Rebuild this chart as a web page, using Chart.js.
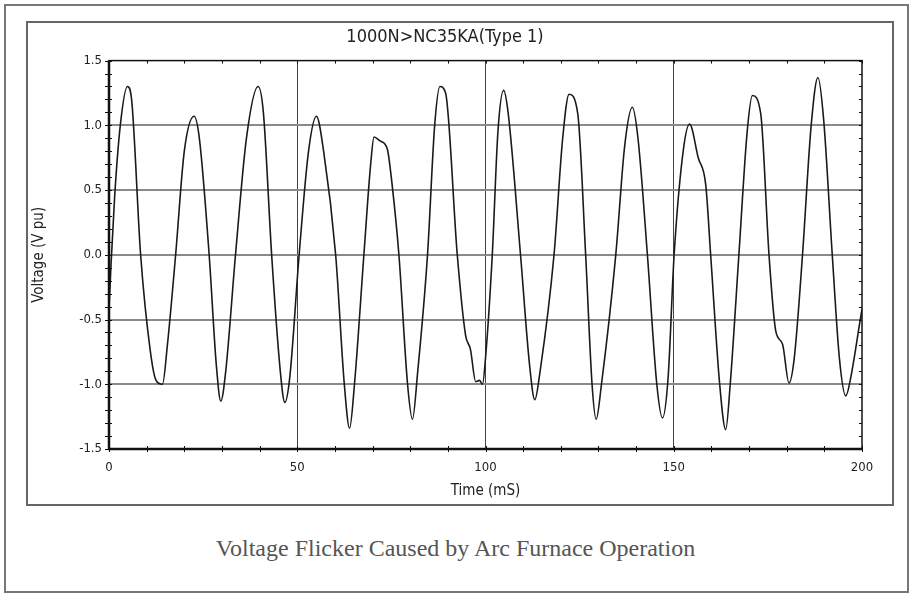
<!DOCTYPE html>
<html>
<head>
<meta charset="utf-8">
<script src="https://cdn.jsdelivr.net/npm/chart.js@4"></script>
<style>
  html, body { margin: 0; padding: 0; background: #fff; }
  body { width: 911px; height: 595px; position: relative; overflow: hidden; }
  #outer { position: absolute; left: 4px; top: 4px; width: 901px; height: 585px; border: 2px solid #777; }
  #inner { position: absolute; left: 26px; top: 21px; width: 864px; height: 481px; border: 2px solid #666; }
  #wrap { position: absolute; left: 28px; top: 23px; width: 862px; height: 479px; }
  #caption { position: absolute; left: 0; width: 911px; top: 535px; text-align: center;
    font-family: 'Liberation Serif', 'Times New Roman', serif; font-size: 24px; color: #555; }
</style>
</head>
<body>
<div id="outer"></div>
<div id="inner"></div>
<div id="wrap"><canvas id="flickerChart" width="862" height="479"></canvas></div>
<div id="caption">Voltage Flicker Caused by Arc Furnace Operation</div>
<script>
// ── Data ────────────────────────────────────────────────────────
const chartTitle = '1000N>NC35KA(Type 1)';
const xTicks = [0, 50, 100, 150, 200];
const yTicks = [-1.5, -1.0, -0.5, 0.0, 0.5, 1.0, 1.5];

const timeMs = [
  0, 0.5, 1.5, 3, 4.9, 6, 8.4, 11, 12.5, 14.2, 15.5, 17.7, 20, 22.6, 24, 26.6, 28.5, 29.7, 31, 33.6,
  36.5, 39.6, 41, 43.2, 45.5, 46.7, 48, 50.5, 53, 55.1, 57, 60.2, 62.5, 63.9, 65.2, 67.7,
  69.5, 70.4, 72, 73.9, 75.2, 77, 79.3, 80.6, 82, 84.6, 86.5, 87.9, 89.4, 92.5, 94.7, 96, 97.4, 98.4, 99.2, 100, 101.8,
  103.3, 104.8, 106, 109.3, 111.7, 113.1, 114.5, 118.2, 120.5, 122.2, 124.5, 126.6, 128.3, 129.4, 130.8, 134.6,
  137, 139, 140.5, 143, 145.5, 147, 148.5, 150.1, 152.5, 154.2, 156.5, 158.5, 159.8, 162.2, 163.8, 165, 167.3,
  169.5, 170.9, 173.1, 175.3, 177.1, 178.9, 180.6, 182, 184.2, 186.5, 188.3, 189.8, 192.1, 194, 195.7, 197, 199.6, 200
];
const voltagePu = [
  -0.42, -0.1, 0.45, 1.0, 1.30, 1.2, 0, -0.75, -0.97, -1.0, -0.7, 0, 0.8, 1.07, 0.9, 0, -0.85, -1.13, -0.9, 0,
  0.9, 1.30, 1.1, 0, -0.9, -1.14, -0.95, 0, 0.8, 1.07, 0.8, 0, -1.0, -1.34, -1.0, 0,
  0.7, 0.91, 0.88, 0.82, 0.54, 0, -1.0, -1.27, -0.9, 0, 1.0, 1.30, 1.25, 0, -0.62, -0.73, -0.98, -0.97, -1.0, -0.8, 0,
  0.95, 1.27, 1.1, 0, -0.85, -1.12, -0.9, 0, 0.9, 1.24, 1.09, 0, -1.0, -1.27, -1.0, 0,
  0.85, 1.14, 0.9, 0, -1.0, -1.26, -0.95, 0, 0.8, 1.01, 0.75, 0.54, 0, -1.0, -1.35, -1.0, 0,
  0.95, 1.23, 1.09, 0, -0.59, -0.69, -0.99, -0.8, 0, 1.0, 1.37, 1.05, 0, -0.8, -1.09, -0.95, -0.49, -0.42
];

const narrow = "'Liberation Sans Narrow', 'DejaVu Sans Condensed', sans-serif";

// ── Frame + minor ticks, like the scope plot ────────────────────
const scopeFrame = {
  id: 'scopeFrame',
  afterDatasetsDraw(chart) {
    const { ctx, chartArea: a, scales: { x, y } } = chart;
    ctx.save();
    ctx.strokeStyle = '#111';
    ctx.lineWidth = 1;
    // minor ticks on y (every 0.1)
    for (let i = -15; i <= 15; i++) {
      const py = Math.round(y.getPixelForValue(i / 10)) + 0.5;
      ctx.beginPath();
      ctx.moveTo(a.left - 4, py); ctx.lineTo(a.left + 3, py);
      ctx.moveTo(a.right - 3, py); ctx.lineTo(a.right, py);
      ctx.stroke();
    }
    // minor ticks on x (every 10 ms)
    for (let t = 0; t <= 200; t += 10) {
      const px = Math.round(x.getPixelForValue(t)) + 0.5;
      ctx.beginPath();
      ctx.moveTo(px, a.bottom - 3); ctx.lineTo(px, a.bottom + 3);
      ctx.moveTo(px, a.top); ctx.lineTo(px, a.top + 3);
      ctx.stroke();
    }
    // box
    ctx.lineWidth = 1.5;
    ctx.strokeRect(a.left, a.top, a.right - a.left, a.bottom - a.top);
    ctx.lineWidth = 2.5;
    ctx.beginPath();
    ctx.moveTo(a.left, a.top); ctx.lineTo(a.left, a.bottom); ctx.lineTo(a.right, a.bottom);
    ctx.stroke();
    ctx.restore();
  }
};

new Chart(document.getElementById('flickerChart'), {
  type: 'line',
  data: {
    datasets: [{
      data: timeMs.map((t, i) => ({ x: t, y: voltagePu[i] })),
      borderColor: '#1a1a1a',
      borderWidth: 1.6,
      pointRadius: 0,
      cubicInterpolationMode: 'monotone',
      fill: false
    }]
  },
  options: {
    responsive: false, maintainAspectRatio: false, animation: false,
    layout: { padding: { left: 0, right: 28, top: 0, bottom: 0 } },
    plugins: {
      legend: { display: false },
      tooltip: { enabled: false },
      title: {
        display: true, text: chartTitle, color: '#222',
        font: { family: narrow, size: 18, weight: 'normal' },
        padding: { top: 4, bottom: 12 }
      }
    },
    scales: {
      x: {
        type: 'linear', min: 0, max: 200,
        afterBuildTicks: s => { s.ticks = xTicks.map(v => ({ value: v })); },
        afterFit: s => { s.height = 53; },
        ticks: { color: '#222', font: { family: narrow, size: 13 }, padding: 11 },
        grid: {
          drawTicks: false,
          color: c => (c.tick && (c.tick.value === 0 || c.tick.value === 200)) ? 'rgba(0,0,0,0)' : '#444',
          lineWidth: 1
        },
        border: { display: false },
        title: { display: true, text: 'Time (mS)', color: '#222', font: { family: narrow, size: 15 }, padding: { top: 0, bottom: 2 } }
      },
      y: {
        type: 'linear', min: -1.5, max: 1.5,
        afterBuildTicks: s => { s.ticks = yTicks.map(v => ({ value: v })); },
        afterFit: s => { s.width = 81; },
        ticks: { color: '#222', font: { family: narrow, size: 13 }, padding: 7, callback: v => v.toFixed(1) },
        grid: {
          drawTicks: false,
          color: c => (c.tick && Math.abs(c.tick.value) === 1.5) ? 'rgba(0,0,0,0)' : '#8a8a8a',
          lineWidth: 2
        },
        border: { display: false },
        title: { display: true, text: 'Voltage (V pu)', color: '#222', font: { family: narrow, size: 15 }, padding: { top: 2, bottom: 0 } }
      }
    }
  },
  plugins: [scopeFrame]
});
</script>
</body>
</html>
